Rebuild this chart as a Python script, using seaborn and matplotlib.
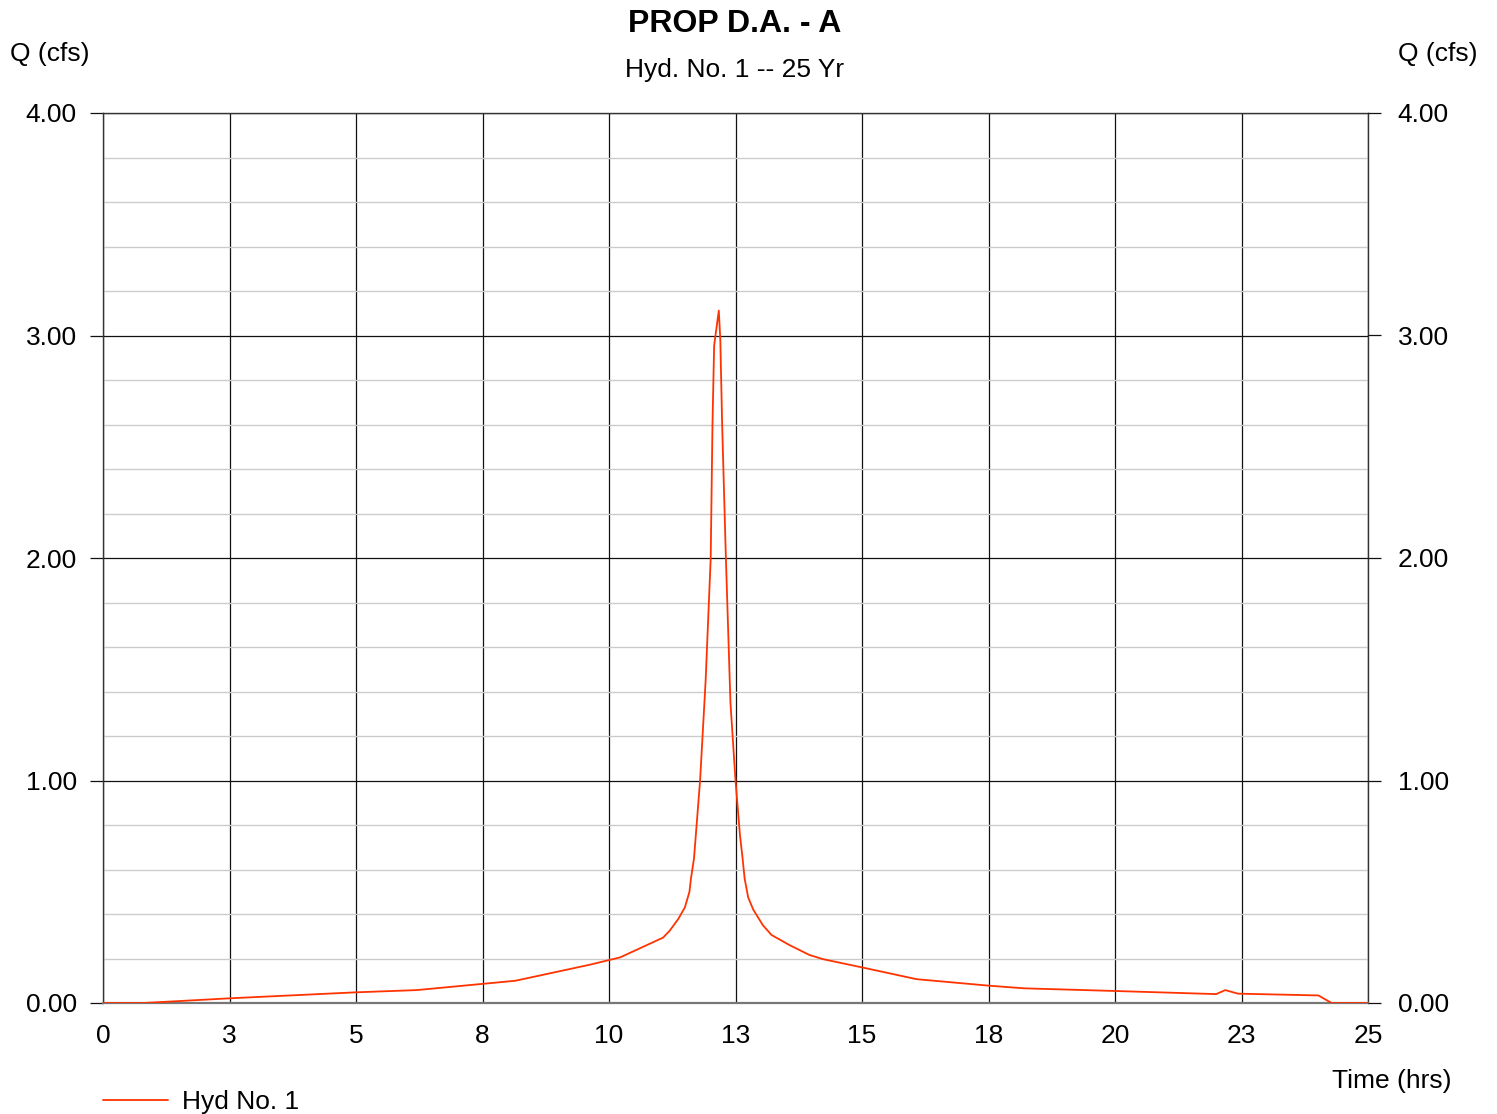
import matplotlib
matplotlib.use("Agg")
import matplotlib.pyplot as plt
import seaborn as sns
import pandas as pd
from matplotlib.ticker import MultipleLocator
from matplotlib.lines import Line2D

# ---- data ----
time_hrs = [0, 0.8, 2.5, 5.0, 6.2, 7.5, 8.15, 9.62, 10.0, 10.22, 11.07, 11.2, 11.37, 11.5,
            11.59, 11.62, 11.68, 11.8, 11.91, 12.01, 12.045, 12.078, 12.17, 12.20, 12.236,
            12.31, 12.40, 12.5, 12.59, 12.64, 12.68, 12.75, 12.85, 13.04, 13.21, 13.57,
            13.96, 14.23, 15.0, 16.08, 17.5, 18.2, 20.0, 22.0, 22.18, 22.43, 24.02, 24.28, 25.0]
flow_cfs = [0, 0, 0.021, 0.048, 0.058, 0.086, 0.10, 0.172, 0.193, 0.205, 0.294, 0.325, 0.378, 0.43,
            0.50, 0.56, 0.65, 1.0, 1.45, 2.0, 2.60, 2.955, 3.112, 2.98, 2.60,
            2.0, 1.35, 1.0, 0.75, 0.65, 0.56, 0.475, 0.42, 0.35, 0.306, 0.26,
            0.216, 0.197, 0.16, 0.107, 0.078, 0.066, 0.054, 0.040, 0.058, 0.042, 0.034, 0, 0]
x_tick_pos = [0, 2.5, 5, 7.5, 10, 12.5, 15, 17.5, 20, 22.5, 25]
x_tick_labels = ["0", "3", "5", "8", "10", "13", "15", "18", "20", "23", "25"]
y_tick_pos = [0, 1, 2, 3, 4]
y_tick_labels = ["0.00", "1.00", "2.00", "3.00", "4.00"]
series_name = "Hyd No. 1"

df = pd.DataFrame({"Time": time_hrs, "Q": flow_cfs, "series": series_name})

sns.set_style("white")
plt.rcParams["font.family"] = ["Liberation Sans", "DejaVu Sans"]
plt.rcParams["text.color"] = "black"
plt.rcParams["xtick.color"] = "black"
plt.rcParams["ytick.color"] = "black"

W, H = 1497, 1114
fig = plt.figure(figsize=(W / 100, H / 100), dpi=100)
L, R, T, B = 103, 1368, 113, 1003
ax = fig.add_axes([L / W, 1 - B / H, (R - L) / W, (B - T) / H])

line_color = "#ff3300"
sns.lineplot(data=df, x="Time", y="Q", hue="series", palette=[line_color],
             ax=ax, linewidth=1.3, legend=False, zorder=5)

ax.set_xlim(0, 25)
ax.set_ylim(0, 4)

# grid
ax.yaxis.set_minor_locator(MultipleLocator(0.2))
ax.grid(which="minor", axis="y", color="#cccccc", linewidth=1.0, zorder=0)
ax.grid(which="major", axis="both", color="#111111", linewidth=0.9, zorder=1)

ax.set_xticks(x_tick_pos)
ax.set_xticklabels(x_tick_labels)
ax.set_yticks(y_tick_pos)
ax.set_yticklabels(y_tick_labels)

FS = 19

# right-hand axis (same scale, slightly larger label gap as in the reference)
ax_r = ax.twinx()
ax_r.set_ylim(ax.get_ylim())
ax_r.set_yticks(y_tick_pos)
ax_r.set_yticklabels(y_tick_labels)
ax_r.tick_params(axis="y", which="major", length=9.4, width=0.9, color="#111111",
                 pad=12, labelsize=FS, labelcolor="black")
ax_r.grid(False)
for s in ax_r.spines.values():
    s.set_visible(False)

ax.tick_params(axis="x", which="both", length=0, pad=15, labelsize=FS, labelcolor="black")
ax.tick_params(axis="y", which="major", length=9.4, width=0.9, color="#111111",
               pad=9.5, labelsize=FS, labelcolor="black",
               left=True, right=False, labelleft=True, labelright=False)
ax.tick_params(axis="y", which="minor", length=0)

for s in ax.spines.values():
    s.set_color("#333333")
    s.set_linewidth(1.0)
ax.spines["bottom"].set_linewidth(1.6)
ax.spines["bottom"].set_color("#777777")

ax.set_xlabel("")
ax.set_ylabel("")

# titles and axis captions
fig.text(735 / W, 1 - 24 / H, "PROP D.A. - A", ha="center", va="center",
         fontsize=23, fontweight="bold")
fig.text(735 / W, 1 - 70 / H, "Hyd. No. 1 -- 25 Yr", ha="center", va="center", fontsize=FS)
fig.text(10 / W, 1 - 54 / H, "Q (cfs)", ha="left", va="center", fontsize=FS)
fig.text(1478 / W, 1 - 54 / H, "Q (cfs)", ha="right", va="center", fontsize=FS)
fig.text(1452 / W, 1 - 1081 / H, "Time (hrs)", ha="right", va="center", fontsize=FS)

# legend
handle = Line2D([], [], color=line_color, linewidth=1.3)
fig.legend([handle], [series_name], loc="center left",
           bbox_to_anchor=(103 / W, 1 - 1102 / H), frameon=False,
           borderaxespad=0, borderpad=0, handlelength=2.45, handletextpad=0.55,
           fontsize=FS)

fig.savefig("out.png", dpi=100)
